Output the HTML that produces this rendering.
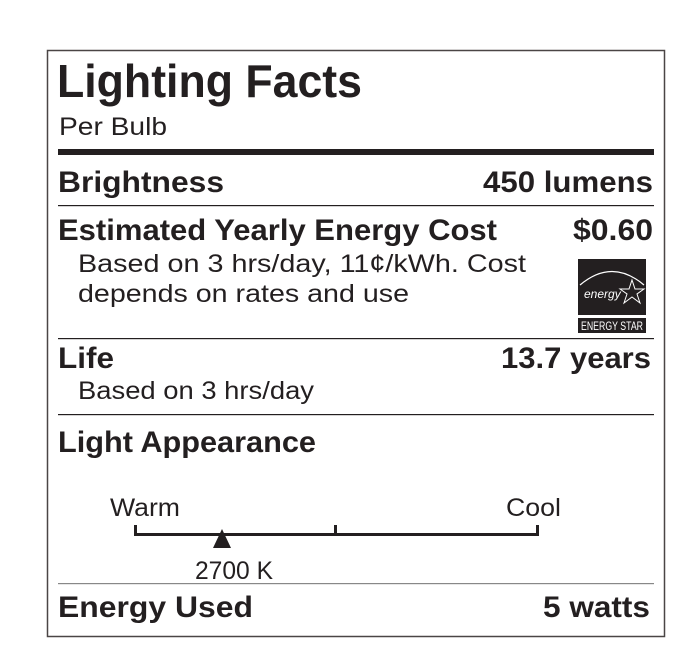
<!DOCTYPE html>
<html><head><style>
html,body{margin:0;padding:0;background:#fff;}
svg{display:block;}
text{font-family:"Liberation Sans",Arial,sans-serif;fill:#231f20;}
.b{font-weight:bold;}
</style></head><body>
<svg width="700" height="665" viewBox="0 0 700 665">
<rect x="47.5" y="50.5" width="617" height="586" fill="#fff" stroke="#4a4545" stroke-width="1.5"/>
<text x="57" y="97" class="b" font-size="46" textLength="305" lengthAdjust="spacingAndGlyphs">Lighting Facts</text>
<text x="59" y="135" font-size="25" textLength="108" lengthAdjust="spacingAndGlyphs">Per Bulb</text>
<rect x="58" y="149" width="596" height="6" fill="#231f20"/>
<text x="58" y="192" class="b" font-size="30" textLength="166" lengthAdjust="spacingAndGlyphs">Brightness</text>
<text x="653" y="192" class="b" font-size="30" text-anchor="end" textLength="170" lengthAdjust="spacingAndGlyphs">450 lumens</text>
<rect x="58" y="205" width="596" height="1.2" fill="#231f20"/>
<text x="58" y="240" class="b" font-size="30" textLength="439" lengthAdjust="spacingAndGlyphs">Estimated Yearly Energy Cost</text>
<text x="653" y="240" class="b" font-size="30" text-anchor="end" textLength="80" lengthAdjust="spacingAndGlyphs">$0.60</text>
<text x="78" y="272" font-size="25" textLength="448" lengthAdjust="spacingAndGlyphs">Based on 3 hrs/day, 11¢/kWh. Cost</text>
<text x="78" y="302" font-size="25" textLength="331" lengthAdjust="spacingAndGlyphs">depends on rates and use</text>
<!-- energy star -->
<rect x="578" y="259" width="68" height="56" fill="#231f20"/>
<path d="M580 285 Q612 258 644 285" stroke="#fff" stroke-width="1.2" fill="none"/>
<text x="584" y="298" font-size="12" font-style="italic" style="fill:#fff" font-family="Liberation Serif,serif">energy</text>
<polygon points="632,280 635,289 644,289 637,294 640,303 632,297 624,303 627,294 620,289 629,289" fill="none" stroke="#fff" stroke-width="1"/>
<rect x="578" y="318" width="68" height="15" fill="#231f20"/>
<text x="612" y="330" font-size="12" text-anchor="middle" style="fill:#fff" textLength="62" lengthAdjust="spacingAndGlyphs">ENERGY STAR</text>
<rect x="58" y="338" width="596" height="1.2" fill="#231f20"/>
<text x="58" y="368" class="b" font-size="30" textLength="56" lengthAdjust="spacingAndGlyphs">Life</text>
<text x="651" y="368" class="b" font-size="30" text-anchor="end" textLength="150" lengthAdjust="spacingAndGlyphs">13.7 years</text>
<text x="78" y="399" font-size="25" textLength="236" lengthAdjust="spacingAndGlyphs">Based on 3 hrs/day</text>
<rect x="58" y="414" width="596" height="1.2" fill="#231f20"/>
<text x="58" y="452" class="b" font-size="30" textLength="258" lengthAdjust="spacingAndGlyphs">Light Appearance</text>
<text x="110" y="516" font-size="25" textLength="70" lengthAdjust="spacingAndGlyphs">Warm</text>
<text x="506" y="516" font-size="25" textLength="55" lengthAdjust="spacingAndGlyphs">Cool</text>
<path d="M135.5 525 V534.5 H537.5 V525 M335.5 525 V534" stroke="#231f20" stroke-width="3" fill="none"/>
<polygon points="222,529 231,548 213,548" fill="#231f20"/>
<text x="195" y="579" font-size="25" textLength="78" lengthAdjust="spacingAndGlyphs">2700 K</text>
<rect x="58" y="583" width="596" height="1.2" fill="#888"/>
<text x="58" y="617" class="b" font-size="30" textLength="195" lengthAdjust="spacingAndGlyphs">Energy Used</text>
<text x="650" y="617" class="b" font-size="30" text-anchor="end" textLength="107" lengthAdjust="spacingAndGlyphs">5 watts</text>
</svg>
</body></html>
